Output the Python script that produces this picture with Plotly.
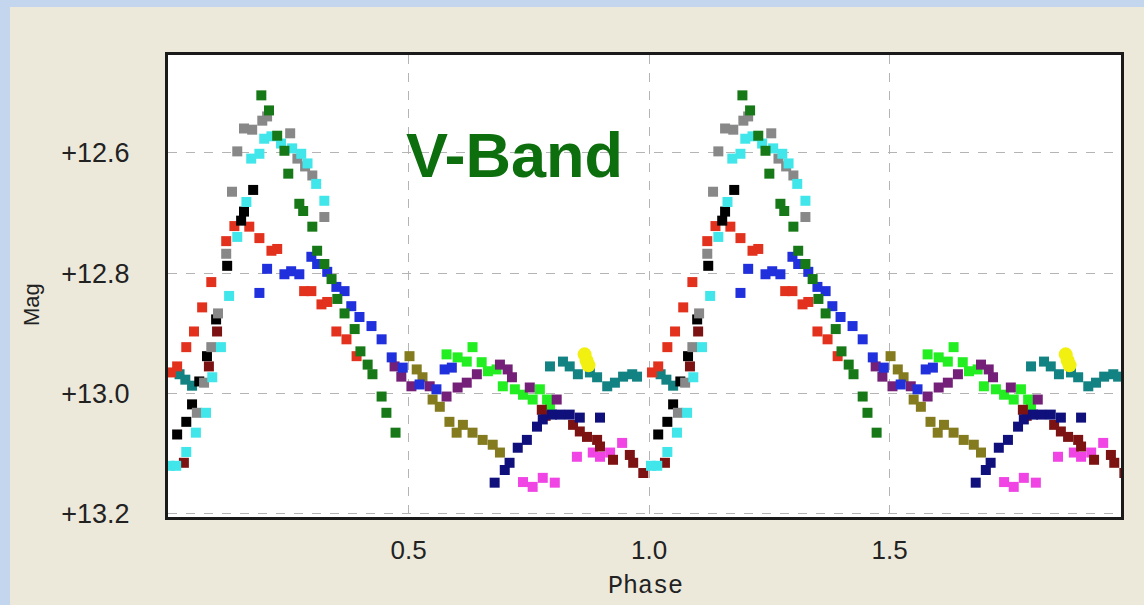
import plotly.graph_objects as go

# ---- data (phase 0..1, magnitude) ----
green_ph = [0.194,0.210,0.227,0.242,0.250,0.273,0.281,0.300,0.310,0.325,0.340,0.352,0.367,0.388,0.400,0.415,0.425,0.444,0.454,0.473]
green_mg = [12.505,12.530,12.572,12.597,12.635,12.685,12.697,12.723,12.763,12.785,12.810,12.843,12.867,12.893,12.930,12.952,12.968,13.005,13.032,13.065]

gray_ph = [0.060,0.075,0.090,0.104,0.121,0.133,0.144,0.158,0.175,0.196,0.206,0.254,0.269,0.285,0.300,0.325]
gray_mg = [13.032,12.982,12.923,12.867,12.768,12.665,12.598,12.560,12.562,12.547,12.540,12.568,12.610,12.623,12.638,12.707]

cyan_ph = [0.004,0.017,0.038,0.058,0.079,0.092,0.110,0.127,0.144,0.163,0.173,0.190,0.200,0.215,0.235,0.258,0.277,0.290,0.308,0.325]
cyan_mg = [13.120,13.120,13.097,13.065,13.032,12.973,12.923,12.838,12.740,12.682,12.610,12.602,12.577,12.573,12.585,12.593,12.602,12.618,12.652,12.680]

black_ph = [0.019,0.038,0.050,0.065,0.081,0.100,0.123,0.152,0.158,0.177]
black_mg = [13.068,13.047,13.018,12.980,12.938,12.877,12.788,12.713,12.698,12.662]

red_ph = [0.006,0.019,0.038,0.054,0.071,0.090,0.121,0.138,0.169,0.190,0.215,0.227,0.283,0.298,0.319,0.331,0.350,0.371,0.392]
red_mg = [12.965,12.955,12.923,12.897,12.857,12.815,12.747,12.722,12.723,12.742,12.763,12.760,12.830,12.830,12.852,12.848,12.897,12.910,12.938]

blue_ph = [0.190,0.206,0.242,0.256,0.273,0.298,0.310,0.331,0.350,0.367,0.381,0.398,0.423,0.444,0.465,0.488,0.523,0.558,0.575,0.590]
blue_mg = [12.833,12.793,12.802,12.797,12.802,12.773,12.785,12.798,12.823,12.830,12.855,12.873,12.888,12.910,12.940,12.957,12.985,12.993,12.960,12.957]

purple_ph = [0.471,0.485,0.506,0.544,0.579,0.602,0.621,0.642,0.690,0.706,0.715,0.752,0.808]
purple_mg = [12.955,12.972,12.988,12.988,13.005,12.990,12.982,12.968,12.952,12.960,12.973,12.990,13.010]

olive_ph = [0.502,0.517,0.529,0.550,0.565,0.585,0.600,0.613,0.633,0.654,0.675,0.690]
olive_mg = [12.938,12.960,12.973,13.010,13.022,13.047,13.065,13.052,13.065,13.077,13.085,13.098]

lime_ph = [0.579,0.602,0.621,0.633,0.652,0.665,0.683,0.696,0.721,0.738,0.758,0.773,0.788,0.794]
lime_mg = [12.935,12.940,12.947,12.923,12.948,12.963,12.960,12.988,12.993,13.002,13.010,12.993,13.010,13.022]

navy_ph = [0.679,0.700,0.710,0.727,0.746,0.767,0.779,0.798,0.815,0.835,0.856,0.898]
navy_mg = [13.148,13.127,13.115,13.090,13.077,13.055,13.043,13.035,13.035,13.035,13.040,13.040]

teal_ph = [0.024,0.036,0.050,0.794,0.821,0.835,0.852,0.877,0.892,0.913,0.929,0.946,0.965,0.975]
teal_mg = [12.968,12.977,12.987,12.955,12.947,12.955,12.968,12.965,12.973,12.988,12.982,12.972,12.968,12.972]

yellow_ph = [0.866,0.870,0.874]
yellow_mg = [12.935,12.945,12.953]

maroon_ph = [0.033,0.085,0.102,0.777,0.785,0.842,0.856,0.871,0.892,0.898,0.925,0.960,0.967,0.988]
maroon_mg = [13.115,12.955,12.897,13.027,13.037,13.052,13.063,13.072,13.077,13.088,13.110,13.102,13.115,13.132]

magenta_ph = [0.738,0.758,0.779,0.804,0.850,0.883,0.898,0.919,0.944]
magenta_mg = [13.147,13.155,13.140,13.148,13.105,13.098,13.105,13.098,13.082]

series = [
    ("olive", olive_ph, olive_mg, "#847a1e", "square", 10),
    ("lime", lime_ph, lime_mg, "#22ee22", "square", 10),
    ("purple", purple_ph, purple_mg, "#742078", "square", 10),
    ("teal", teal_ph, teal_mg, "#128282", "square", 10),
    ("yellow", yellow_ph, yellow_mg, "#f2f010", "circle", 14),
    ("magenta", magenta_ph, magenta_mg, "#f044e4", "square", 10),
    ("maroon", maroon_ph, maroon_mg, "#7c1212", "square", 10),
    ("navy", navy_ph, navy_mg, "#10107c", "square", 10),
    ("red", red_ph, red_mg, "#e2321e", "square", 10),
    ("blue", blue_ph, blue_mg, "#2030dc", "square", 10),
    ("black", black_ph, black_mg, "#000000", "square", 10),
    ("gray", gray_ph, gray_mg, "#888888", "square", 10),
    ("cyan", cyan_ph, cyan_mg, "#40e6ea", "square", 10),
    ("green", green_ph, green_mg, "#167816", "square", 10),
]

x_ticks = [0.5, 1.0, 1.5]
x_ticktext = ["0.5", "1.0", "1.5"]
y_ticks = [12.6, 12.8, 13.0, 13.2]
y_ticktext = ["+12.6", "+12.8", "+13.0", "+13.2"]

fig = go.Figure()
for name, ph, mg, col, sym, sz in series:
    xs = list(ph) + [p + 1 for p in ph]
    ys = list(mg) + list(mg)
    fig.add_trace(go.Scatter(
        x=xs, y=ys, mode="markers", name=name,
        marker=dict(symbol=sym, size=sz, color=col, line=dict(width=0)),
        showlegend=False, hoverinfo="skip",
    ))

W, H = 1144, 605
L, R, T, B = 168, 23, 55, 88
pw, ph_ = W - L - R, H - T - B

def px(xp):
    return (xp - L) / pw

def py(yp):
    return (H - B - yp) / ph_

beige = "#ECE9DB"
blue_bg = "#C4D5EE"

fig.update_layout(
    width=W, height=H,
    margin=dict(l=L, r=R, t=T, b=B, pad=0),
    paper_bgcolor=beige,
    plot_bgcolor="white",
    font=dict(family="Liberation Sans, Arial, sans-serif", color="#222222"),
    shapes=[
        dict(type="rect", xref="paper", yref="paper", x0=px(-20), x1=px(10), y0=py(H + 20), y1=py(-20),
             fillcolor=blue_bg, line=dict(width=0), layer="below"),
        dict(type="rect", xref="paper", yref="paper", x0=px(-20), x1=px(W + 20), y0=py(7), y1=py(-20),
             fillcolor=blue_bg, line=dict(width=0), layer="below"),
    ],
    annotations=[
        dict(text="<b>V-Band</b>", x=px(514), y=py(155), xref="paper", yref="paper",
             showarrow=False, font=dict(family="Liberation Sans, Arial, sans-serif", size=63, color="#0d6e0d"),
             xanchor="center", yanchor="middle"),
        dict(text="Phase", x=px(645), y=py(586), xref="paper", yref="paper",
             showarrow=False, font=dict(family="Liberation Mono, Courier New, monospace", size=25, color="#222222"),
             xanchor="center", yanchor="middle"),
        dict(text="Mag", x=px(31), y=py(305), xref="paper", yref="paper", textangle=-90,
             showarrow=False, font=dict(family="Liberation Sans, Arial, sans-serif", size=22, color="#222222"),
             xanchor="center", yanchor="middle"),
    ],
)

fig.update_xaxes(
    range=[0, 1.981], tickvals=x_ticks, ticktext=x_ticktext,
    showgrid=True, gridcolor="#b4b4b4", griddash="dash", gridwidth=1.2,
    zeroline=False, showline=True, linecolor="#1a1a1a", linewidth=3, mirror=True,
    ticks="", ticklabelstandoff=8, tickfont=dict(size=26, color="#222222"),
)
fig.update_yaxes(
    range=[13.205, 12.438], tickvals=y_ticks, ticktext=y_ticktext,
    showgrid=True, gridcolor="#b4b4b4", griddash="dash", gridwidth=1.2,
    zeroline=False, showline=True, linecolor="#1a1a1a", linewidth=3, mirror=True,
    ticks="", ticklabelstandoff=30, tickfont=dict(size=27, color="#222222"),
)

fig.write_html("out.html")
